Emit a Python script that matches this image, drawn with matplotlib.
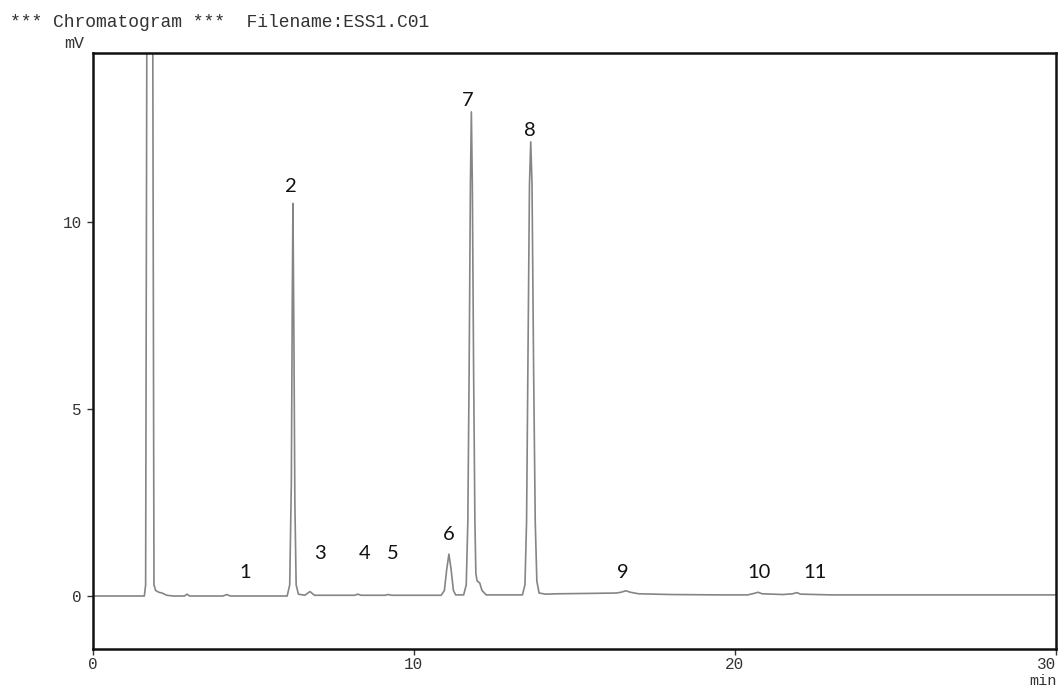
import matplotlib
matplotlib.use("Agg")
import matplotlib.pyplot as plt

# trace (time in min, signal in mV)
time_min = [0.0, 1.60, 1.64, 1.68, 1.86, 1.90, 1.95, 2.05, 2.15, 2.30, 2.50, 2.85, 2.93, 3.01,
            4.05, 4.17, 4.28, 6.05, 6.13, 6.18, 6.21, 6.23, 6.26, 6.29, 6.33, 6.40, 6.60,
            6.76, 6.90, 8.15, 8.25, 8.35, 9.10, 9.20, 9.30, 10.85, 10.95, 11.02, 11.09,
            11.16, 11.23, 11.30, 11.55, 11.63, 11.68, 11.72, 11.76, 11.79, 11.82, 11.86,
            11.90, 11.93, 11.97, 12.05, 12.12, 12.25, 13.38, 13.46, 13.51, 13.55, 13.60,
            13.64, 13.68, 13.73, 13.78, 13.83, 13.90, 14.10, 14.50, 15.50, 16.30, 16.45,
            16.60, 16.75, 17.00, 18.00, 19.50, 20.40, 20.60, 20.72, 20.85, 21.50, 21.80,
            21.93, 22.05, 23.00, 26.00, 30.00]
signal_mv = [0.0, 0.0, 0.3, 16.0, 16.0, 0.3, 0.15, 0.10, 0.08, 0.02, 0.0, 0.0, 0.05, 0.0,
             0.0, 0.04, 0.0, 0.0, 0.3, 3.0, 8.0, 10.5, 7.0, 2.5, 0.3, 0.05, 0.02,
             0.12, 0.02, 0.02, 0.05, 0.02, 0.02, 0.04, 0.02, 0.02, 0.15, 0.70, 1.12,
             0.70, 0.15, 0.03, 0.03, 0.3, 2.0, 6.0, 11.0, 12.95, 11.0, 6.0,
             2.0, 0.6, 0.4, 0.35, 0.15, 0.03, 0.03, 0.3, 2.0, 6.0, 11.0,
             12.15, 11.0, 6.0, 2.0, 0.4, 0.08, 0.05, 0.06, 0.07, 0.08, 0.10,
             0.14, 0.10, 0.06, 0.04, 0.03, 0.03, 0.07, 0.10, 0.06, 0.04, 0.06,
             0.09, 0.05, 0.03, 0.03, 0.03]

peak_labels = ["1", "2", "3", "4", "5", "6", "7", "8", "9", "10", "11"]
label_time = [4.74, 6.17, 7.07, 8.47, 9.35, 11.09, 11.68, 13.61, 16.51, 20.75, 22.49]
label_mv = [0.64, 10.96, 1.15, 1.15, 1.15, 1.64, 13.26, 12.46, 0.64, 0.64, 0.64]

mono = "Liberation Mono"

fig = plt.figure(figsize=(10.58, 6.88), dpi=100)
ax = fig.add_axes([0.0879, 0.0567, 0.910, 0.866])

ax.plot(time_min, signal_mv, color="#858585", lw=1.2)

for lab, t, v in zip(peak_labels, label_time, label_mv):
    ax.text(t, v, lab, ha="center", va="center", fontsize=14.5,
            family=["Lato", "DejaVu Sans"], color="#111111")

ax.set_xlim(0, 30)
ax.set_ylim(-1.417, 14.52)
ax.set_xticks([0, 10, 20, 30])
ax.set_yticks([0, 5, 10])
ax.tick_params(direction="out", length=4, width=1, colors="#333333",
               labelsize=11.5)
ax.tick_params(axis="x", pad=2)
ax.tick_params(axis="y", pad=4)
for lbl in ax.get_xticklabels() + ax.get_yticklabels():
    lbl.set_family(mono)
ax.get_xticklabels()[-1].set_horizontalalignment("right")
for s in ax.spines.values():
    s.set_linewidth(1.8)
    s.set_color("#111111")

fig.text(0.0095, 0.968, "*** Chromatogram ***  Filename:ESS1.C01", family=mono,
         fontsize=13, va="center", ha="left", color="#333333")
fig.text(0.070, 0.9375, "mV", family=mono, fontsize=12, va="center", ha="center",
         color="#333333")
fig.text(0.999, 0.0, "min", family=mono, fontsize=11, va="bottom", ha="right",
         color="#333333")

fig.savefig("out.png", dpi=100)
